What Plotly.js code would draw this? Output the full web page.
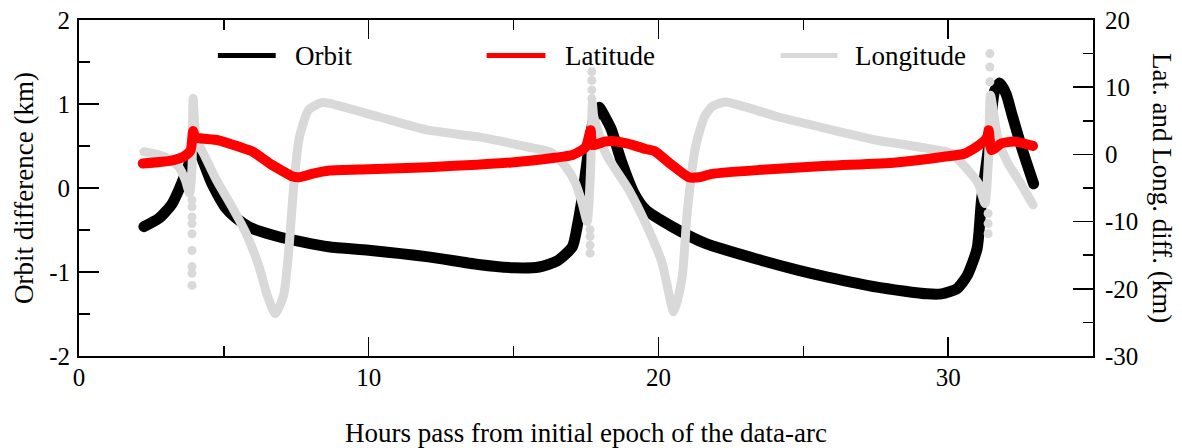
<!DOCTYPE html>
<html>
<head>
<meta charset="utf-8">
<script src="https://cdn.plot.ly/plotly-3.0.1.min.js"></script>
<style>
html,body{margin:0;padding:0;background:#fff;}
#chart{width:1182px;height:448px;}
#chart .scatterlayer path.js-line{stroke-linecap:round !important;stroke-linejoin:round !important;}
</style>
</head>
<body>
<div id="chart"></div>
<script>
// Hours since initial epoch and orbit difference (km, left axis)
const orbitHours = [2.24, 2.76, 3.21, 3.5, 3.73, 3.93, 4.13, 4.59, 5.05, 5.4, 5.97, 6.89, 8.61, 10.0, 12.06, 13.78, 15.04, 15.88, 16.5, 17.03, 17.2, 17.37, 17.55, 17.75, 17.95, 18.15, 18.37, 18.72, 19.17, 19.56, 20.47, 21.62, 23.54, 24.84, 25.84, 27.55, 29.28, 29.77, 30.3, 30.66, 31.0, 31.15, 31.38, 31.6, 31.78, 32.0, 32.19, 32.53, 32.95];
const orbitDiff = [-0.46, -0.36, -0.19, 0.02, 0.22, 0.40, 0.41, 0.05, -0.23, -0.35, -0.48, -0.58, -0.70, -0.74, -0.82, -0.91, -0.95, -0.94, -0.87, -0.70, -0.45, -0.11, 0.35, 0.80, 0.96, 0.85, 0.70, 0.32, -0.07, -0.26, -0.46, -0.66, -0.86, -0.98, -1.06, -1.18, -1.26, -1.26, -1.20, -1.04, -0.72, -0.15, 0.45, 1.15, 1.25, 1.12, 0.89, 0.49, 0.05];

// Latitude difference (km, right axis)
const latHours = [2.2, 2.87, 3.3, 3.6, 3.85, 3.94, 4.0, 4.17, 4.82, 5.55, 6.0, 6.58, 7.0, 7.38, 7.6, 8.04, 8.65, 10.0, 12.06, 14.93, 16.42, 17.03, 17.49, 17.66, 17.72, 18.14, 18.4, 18.94, 19.56, 19.86, 20.4, 21.05, 21.4, 21.85, 23.54, 25.84, 28.2, 29.85, 30.58, 31.15, 31.35, 31.4, 31.5, 31.84, 32.3, 32.93];
const latDiff = [-1.35, -1.1, -0.8, -0.36, 0.6, 3.5, 2.6, 2.4, 2.1, 1.1, 0.4, -1.35, -2.4, -3.3, -3.4, -2.9, -2.4, -2.2, -1.9, -1.2, -0.5, -0.1, 1.1, 3.6, 1.4, 1.9, 2.0, 1.6, 0.8, 0.5, -1.35, -3.4, -3.4, -2.9, -2.3, -1.7, -1.2, -0.36, 0.14, 1.63, 2.6, 3.6, 0.64, 1.63, 1.9, 1.26];

// Longitude difference (km, right axis)
const lonHours = [2.24, 2.99, 3.44, 3.67, 3.82, 3.9, 3.94, 4.05, 4.3, 4.74, 5.28, 5.74, 6.2, 6.5, 6.78, 7.06, 7.23, 7.41, 7.6, 7.92, 8.38, 8.65, 10.34, 12.06, 13.78, 15.5, 16.3, 16.8, 17.14, 17.37, 17.54, 17.66, 17.72, 17.77, 18.18, 18.98, 19.67, 20.13, 20.53, 20.82, 20.99, 21.28, 21.59, 21.85, 22.31, 22.97, 24.12, 25.84, 27.55, 28.28, 29.28, 30.1, 30.58, 31.04, 31.27, 31.4, 31.46, 31.73, 32.07, 32.5, 32.93];
const lonDiff = [0.4, -0.4, -1.85, -3.8, -5.8, -2.0, 8.3, 2.1, 0.1, -3.8, -7.8, -11.5, -16.5, -21.0, -23.7, -21.0, -14.8, -4.8, 2.4, 6.6, 7.7, 7.6, 5.6, 3.6, 2.6, 1.1, 0.3, -1.85, -4.3, -7.3, -10.0, -2.0, 7.6, 5.6, 0.14, -5.3, -11.3, -16.2, -23.4, -18.2, -8.8, 1.1, 5.6, 7.1, 7.8, 7.1, 5.6, 3.8, 2.1, 1.6, 0.9, 0.2, -1.85, -4.3, -7.3, 0.0, 8.8, 2.1, -1.35, -4.3, -7.5];

// Scattered longitude samples at the jumps
const lonDotHours = [3.9, 3.9, 3.9, 3.9, 3.9, 3.9, 3.9, 3.9, 3.9, 17.64, 17.64, 17.64, 17.64, 17.7, 17.7, 17.7, 17.7, 31.38, 31.38, 31.38, 31.44, 31.44, 31.44];
const lonDotDiff = [-6.8, -7.8, -9.3, -10.3, -11.8, -14.3, -16.7, -17.7, -19.5, -11.2, -12.2, -13.5, -14.7, 12.3, 11.0, 9.6, 8.3, -8.8, -10.3, -11.8, 15.0, 13.0, 10.8];

// Axis ticks
const xTickVals = [0, 10, 20, 30];
const xTickText = ['0', '10', '20', '30'];
const leftTickVals = [-2, -1, 0, 1, 2];
const leftTickText = ['-2', '-1', '0', '1', '2'];
const rightTickVals = [-30, -20, -10, 0, 10, 20];
const rightTickText = ['-30', '-20', '-10', '0', '10', '20'];

const seriesNames = ['Orbit', 'Latitude', 'Longitude'];
const seriesColors = ['#000000', '#ff0000', '#d9d9d9'];

const FONT = '"Liberation Serif", "Times New Roman", serif';

const traces = [
  {x: orbitHours, y: orbitDiff, type: 'scatter', mode: 'lines', name: seriesNames[0],
   line: {color: seriesColors[0], width: 11, shape: 'spline', smoothing: 0.6}, yaxis: 'y'},
  {x: lonDotHours, y: lonDotDiff, type: 'scatter', mode: 'markers', name: seriesNames[2] + ' samples',
   marker: {color: seriesColors[2], size: 9}, yaxis: 'y2', showlegend: false},
  {x: lonHours, y: lonDiff, type: 'scatter', mode: 'lines', name: seriesNames[2],
   line: {color: seriesColors[2], width: 9, shape: 'spline', smoothing: 0.6}, yaxis: 'y2'},
  {x: latHours, y: latDiff, type: 'scatter', mode: 'lines', name: seriesNames[1],
   line: {color: seriesColors[1], width: 10, shape: 'spline', smoothing: 0.6}, yaxis: 'y2'}
];

// legend drawn manually (paper coords)
const legendY = 0.894;
const legendItems = [
  {x0: 0.137, x1: 0.194, tx: 0.211},
  {x0: 0.402, x1: 0.460, tx: 0.477},
  {x0: 0.692, x1: 0.748, tx: 0.763}
];
const shapes = legendItems.map((it, i) => ({
  type: 'line', xref: 'paper', yref: 'paper', x0: it.x0, x1: it.x1, y0: legendY, y1: legendY,
  line: {color: seriesColors[i], width: 5}
}));
const annotations = legendItems.map((it, i) => ({
  xref: 'paper', yref: 'paper', x: it.tx, y: legendY, xanchor: 'left', yanchor: 'middle',
  text: seriesNames[i], showarrow: false, font: {family: FONT, size: 27, color: '#000'}
}));
annotations.push({
  xref: 'paper', yref: 'paper', x: 1.068, y: 0.5, xanchor: 'center', yanchor: 'middle',
  text: 'Lat. and Long. diff. (km)', textangle: 90, showarrow: false,
  font: {family: FONT, size: 27, color: '#000'}
});

const layout = {
  width: 1182, height: 448,
  margin: {l: 79, r: 89, t: 20, b: 92},
  paper_bgcolor: '#fff', plot_bgcolor: '#fff',
  showlegend: false,
  font: {family: FONT, size: 25, color: '#000'},
  xaxis: {
    range: [0, 35], tickvals: xTickVals, ticktext: xTickText,
    ticks: 'inside', ticklen: 19, tickwidth: 1.5, tickcolor: '#000',
    minor: {dtick: 5, ticks: 'inside', ticklen: 10, tickwidth: 1.5, tickcolor: '#000'},
    showline: true, linewidth: 2, linecolor: '#000', mirror: 'ticks',
    showgrid: false, zeroline: false, ticklabelstandoff: -2,
    tickfont: {family: FONT, size: 25, color: '#000'},
    title: {text: 'Hours pass from initial epoch of the data-arc', standoff: 36,
            font: {family: FONT, size: 27, color: '#000'}}
  },
  yaxis: {
    range: [-2, 2], tickvals: leftTickVals, ticktext: leftTickText,
    ticks: 'inside', ticklen: 20, tickwidth: 1.5, tickcolor: '#000',
    minor: {dtick: 0.5, ticks: 'inside', ticklen: 11, tickwidth: 1.5, tickcolor: '#000'},
    showline: true, linewidth: 2, linecolor: '#000', mirror: false,
    showgrid: false, zeroline: false, ticklabelstandoff: 2,
    tickfont: {family: FONT, size: 25, color: '#000'},
    title: {text: 'Orbit difference (km)', standoff: 8,
            font: {family: FONT, size: 27, color: '#000'}}
  },
  yaxis2: {
    range: [-30, 20], tickvals: rightTickVals, ticktext: rightTickText,
    overlaying: 'y', side: 'right',
    ticks: 'inside', ticklen: 20, tickwidth: 1.5, tickcolor: '#000',
    minor: {dtick: 5, ticks: 'inside', ticklen: 10, tickwidth: 1.5, tickcolor: '#000'},
    showline: true, linewidth: 2, linecolor: '#000',
    showgrid: false, zeroline: false, ticklabelstandoff: 5,
    tickfont: {family: FONT, size: 25, color: '#000'}
  },
  shapes: shapes,
  annotations: annotations
};

Plotly.newPlot('chart', traces, layout, {displayModeBar: false, staticPlot: true});
</script>
</body>
</html>
